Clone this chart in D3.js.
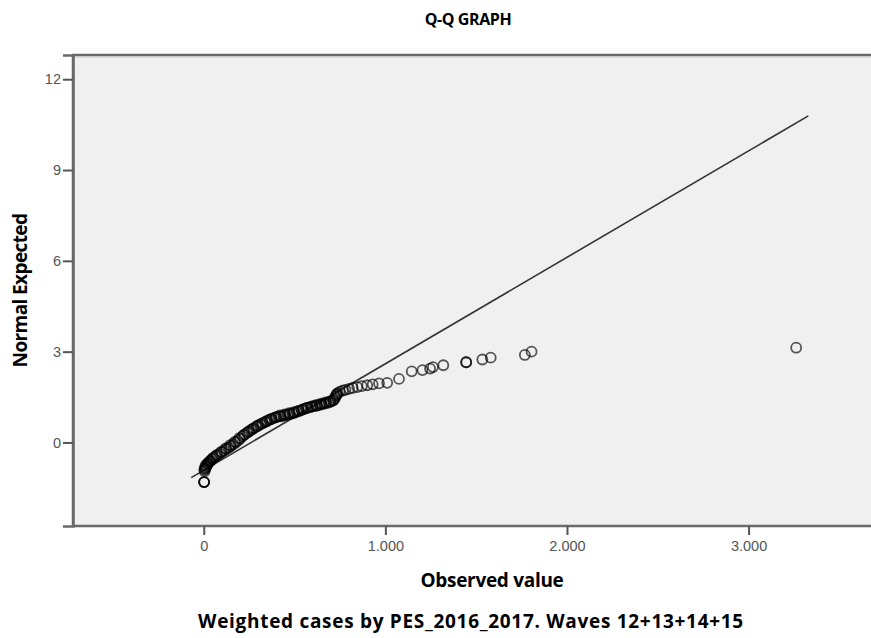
<!DOCTYPE html>
<meta charset="utf-8">
<body style="margin:0;background:#fff">
<script src="https://d3js.org/d3.v7.min.js"></script>
<svg></svg>
<script>
    var width = 871;
    var height = 638;

    var observed = [2, 2, 2, 5, 8, 12, 15, 20, 25, 30, 38, 45, 55, 65, 75, 88, 100, 112, 125, 138,
        150, 163, 176, 188, 200, 213, 225, 238, 250, 262, 275, 288, 300, 312, 325, 338, 350, 362,
        375, 388, 400, 412, 425, 438, 450, 462, 475, 488, 500, 512, 525, 538, 550, 562, 575, 588,
        600, 612, 625, 638, 650, 662, 675, 688, 700, 712, 722, 730, 738, 750, 765, 780, 800, 820,
        845, 870, 900, 930, 965, 1010, 1075, 1145, 1204, 1246, 1262, 1319, 1445, 1445, 1534, 1580,
        1768, 1805, 3262,
        3, 6, 10, 20, 35, 50, 70, 95, 120, 145, 170, 195, 220, 245, 270, 295, 320, 345, 370, 395,
        420, 445, 470, 495, 520, 545, 570, 595, 620, 645, 670, 695, 715, 725, 733];
    var expected = [-1.31, -1.31, -1.31, -0.95, -0.88, -0.82, -0.78, -0.72, -0.68, -0.64, -0.60, -0.55,
        -0.50, -0.46, -0.42, -0.37, -0.32, -0.27, -0.22, -0.17, -0.12, -0.06, 0.0, 0.06, 0.12, 0.20,
        0.26, 0.32, 0.37, 0.42, 0.47, 0.52, 0.56, 0.60, 0.64, 0.68, 0.72, 0.75, 0.78, 0.81, 0.84,
        0.86, 0.86, 0.88, 0.90, 0.92, 0.94, 0.96, 0.98, 1.01, 1.04, 1.07, 1.10, 1.13, 1.15, 1.17,
        1.19, 1.20, 1.22, 1.24, 1.26, 1.28, 1.30, 1.32, 1.35, 1.38, 1.46, 1.56, 1.63, 1.68, 1.71,
        1.74, 1.77, 1.80, 1.83, 1.86, 1.89, 1.92, 1.95, 1.97, 2.10, 2.35, 2.39, 2.44, 2.49, 2.55,
        2.65, 2.65, 2.74, 2.80, 2.89, 3.00, 3.13,
        -0.90, -0.84, -0.76, -0.70, -0.62, -0.52, -0.42, -0.31, -0.20, -0.09, 0.02, 0.14, 0.25,
        0.35, 0.45, 0.54, 0.62, 0.69, 0.77, 0.83, 0.89, 0.93, 0.97, 1.00, 1.04, 1.09, 1.14, 1.19,
        1.24, 1.28, 1.32, 1.36, 1.40, 1.52, 1.60];

    // reference line end points
    var lineObs = [-69, 3329];
    var lineExp = [-1.16, 10.79];

    var xTicks = [0, 1000, 2000, 3000];
    var yTicks = [0, 3, 6, 9, 12];

    var svg = d3.select("svg")
        .attr("width", width)
        .attr("height", height)
        .style("display", "block");

    var plotLeft = 73, plotTop = 55, plotRight = 875, plotBottom = 526;

    var x = d3.scaleLinear().domain([-720, 3696]).range([plotLeft, plotRight]);
    var y = d3.scaleLinear().domain([-2.76, 12.8]).range([plotBottom, plotTop]);

    // plot background
    svg.append("rect")
        .attr("x", plotLeft).attr("y", plotTop)
        .attr("width", plotRight - plotLeft).attr("height", plotBottom - plotTop)
        .style("fill", "#f0f0f0");

    // frame
    svg.append("path")
        .attr("d", "M" + plotLeft + "," + plotBottom + "V" + plotTop + "H" + plotRight)
        .style("fill", "none").style("stroke", "#6a6a6a").style("stroke-width", 2.5);
    svg.append("line")
        .attr("x1", plotLeft + 1).attr("x2", plotRight).attr("y1", plotTop + 2).attr("y2", plotTop + 2)
        .style("stroke", "#c4c4c4").style("stroke-width", 1);

    // axes
    var fmt = function(d) { return d === 0 ? "0" : d3.format(",")(d).replace(/,/g, "."); };
    var xAxis = svg.append("g")
        .attr("transform", "translate(0," + plotBottom + ")")
        .call(d3.axisBottom(x).tickValues(xTicks).tickFormat(fmt).tickSize(9).tickPadding(6));
    var yAxis = svg.append("g")
        .attr("transform", "translate(" + plotLeft + ",0)")
        .call(d3.axisLeft(y).tickValues(yTicks).tickSize(10).tickPadding(2));

    [xAxis, yAxis].forEach(function(g) {
        g.select(".domain").style("stroke", "#6a6a6a").style("stroke-width", 2.5);
        g.selectAll(".tick line").style("stroke", "#555").style("stroke-width", 2);
        g.selectAll(".tick text").style("fill", "#555").style("font-size", "14.5px")
            .style("font-family", "'Liberation Sans', Arial, sans-serif");
    });
    xAxis.select(".domain").attr("d", "M" + plotLeft + ",0H" + plotRight);

    // reference line
    svg.append("line")
        .attr("x1", x(lineObs[0])).attr("y1", y(lineExp[0]))
        .attr("x2", x(lineObs[1])).attr("y2", y(lineExp[1]))
        .style("stroke", "#333").style("stroke-width", 1.6);

    // points
    svg.append("g").selectAll("circle")
        .data(d3.range(observed.length))
        .enter().append("circle")
        .attr("cx", function(i) { return x(observed[i]); })
        .attr("cy", function(i) { return y(expected[i]); })
        .attr("r", 5)
        .style("fill", "none")
        .style("stroke", "#000")
        .style("stroke-opacity", 0.65)
        .style("stroke-width", 1.8);

    // titles
    var bold = "'Open Sans', 'Noto Sans', sans-serif";
    svg.append("text")
        .attr("x", 468).attr("y", 25)
        .attr("text-anchor", "middle")
        .style("font-family", bold).style("font-weight", 700).style("font-size", "16px")
        .style("letter-spacing", "-0.4px")
        .text("Q-Q GRAPH");
    svg.append("text")
        .attr("x", 492).attr("y", 587)
        .attr("text-anchor", "middle")
        .style("font-family", bold).style("font-weight", 700).style("font-size", "19px")
        .style("letter-spacing", "-0.3px")
        .text("Observed value");
    svg.append("text")
        .attr("x", 471).attr("y", 628)
        .attr("text-anchor", "middle")
        .style("font-family", bold).style("font-weight", 700).style("font-size", "19px")
        .style("letter-spacing", "0.7px")
        .text("Weighted cases by PES_2016_2017. Waves 12+13+14+15");
    svg.append("text")
        .attr("transform", "translate(27," + ((plotTop + plotBottom) / 2) + ") rotate(-90)")
        .attr("text-anchor", "middle")
        .style("font-family", bold).style("font-weight", 700).style("font-size", "19px")
        .style("letter-spacing", "-0.6px")
        .text("Normal Expected");
</script>
